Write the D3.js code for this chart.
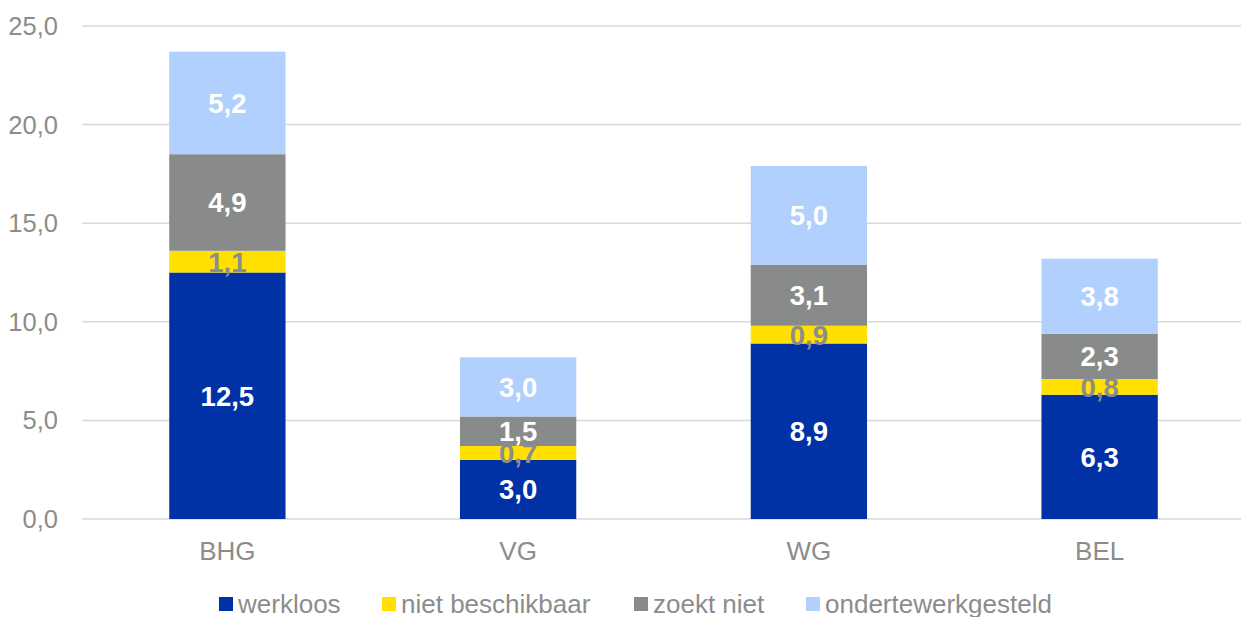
<!DOCTYPE html>
<html><head><meta charset="utf-8">
<script src="https://cdn.jsdelivr.net/npm/d3@7"></script>
<style>body{margin:0;background:#fff}svg{display:block}text{font-family:"Liberation Sans",Arial,sans-serif}</style>
</head><body>
<svg id="c" width="1241" height="617"></svg>
<script>
const categories = ["BHG","VG","WG","BEL"];
const seriesNames = ["werkloos","niet beschikbaar","zoekt niet","ondertewerkgesteld"];
const werkloos = [12.5, 3.0, 8.9, 6.3];
const nietBeschikbaar = [1.1, 0.7, 0.9, 0.8];
const zoektNiet = [4.9, 1.5, 3.1, 2.3];
const ondertewerkgesteld = [5.2, 3.0, 5.0, 3.8];
const yTicks = [0,5,10,15,20,25];
const colors = ["#0031A5","#FFE000","#898B8B","#B2D0FE"];
const labelColors = ["#ffffff","#8C8C8C","#ffffff","#ffffff"];

const svg = d3.select("#c");
const x = d3.scaleBand().domain(categories).range([82,1245]).padding(0);
const y = d3.scaleLinear().domain([0,25]).range([519,26]);
const fmt = v => d3.format(".1f")(v).replace(".",",");

svg.append("g").selectAll("line").data(yTicks).join("line")
  .attr("x1",82).attr("x2",1241).attr("y1",d=>y(d)).attr("y2",d=>y(d))
  .attr("stroke","#D9D9D9").attr("stroke-width",1.5);
svg.append("g").selectAll("text").data(yTicks).join("text")
  .attr("x",58).attr("y",d=>y(d)).attr("dy","0.35em").attr("text-anchor","end")
  .attr("font-size",25.5).attr("fill","#8C8C8C").text(fmt);

const rows = categories.map((c,i)=>({cat:c, werkloos:werkloos[i], nb:nietBeschikbaar[i], zn:zoektNiet[i], ot:ondertewerkgesteld[i]}));
const keys = ["werkloos","nb","zn","ot"];
const stack = d3.stack().keys(keys)(rows);
const bw = x.bandwidth()*0.4;
stack.forEach((s,si)=>{
  const g = svg.append("g");
  g.selectAll("rect").data(s).join("rect")
    .attr("x",d=>x(d.data.cat)+x.bandwidth()/2-bw/2).attr("width",bw)
    .attr("y",d=>y(d[1])).attr("height",d=>y(d[0])-y(d[1]))
    .attr("fill",colors[si]);
});
stack.forEach((s,si)=>{
  svg.append("g").selectAll("text").data(s).join("text")
    .attr("x",d=>x(d.data.cat)+x.bandwidth()/2)
    .attr("y",d=>(y(d[0])+y(d[1]))/2).attr("dy","0.36em")
    .attr("text-anchor","middle").attr("font-size",27.5).attr("font-weight","bold")
    .attr("fill",labelColors[si]).text(d=>fmt(d[1]-d[0]));
});
svg.append("g").selectAll("text").data(categories).join("text")
  .attr("x",d=>x(d)+x.bandwidth()/2).attr("y",551).attr("dy","0.35em")
  .attr("text-anchor","middle").attr("font-size",26).attr("fill","#8C8C8C").text(d=>d);

const legX = [219,382,634,806];
const leg = svg.append("g").selectAll("g").data(seriesNames).join("g")
  .attr("transform",(d,i)=>`translate(${legX[i]},0)`);
leg.append("rect").attr("x",0).attr("y",597).attr("width",14).attr("height",14).attr("fill",(d,i)=>colors[i]);
leg.append("text").attr("x",19).attr("y",604).attr("dy","0.35em").attr("font-size",26).attr("fill","#8C8C8C").text(d=>d);
</script>
</body></html>
